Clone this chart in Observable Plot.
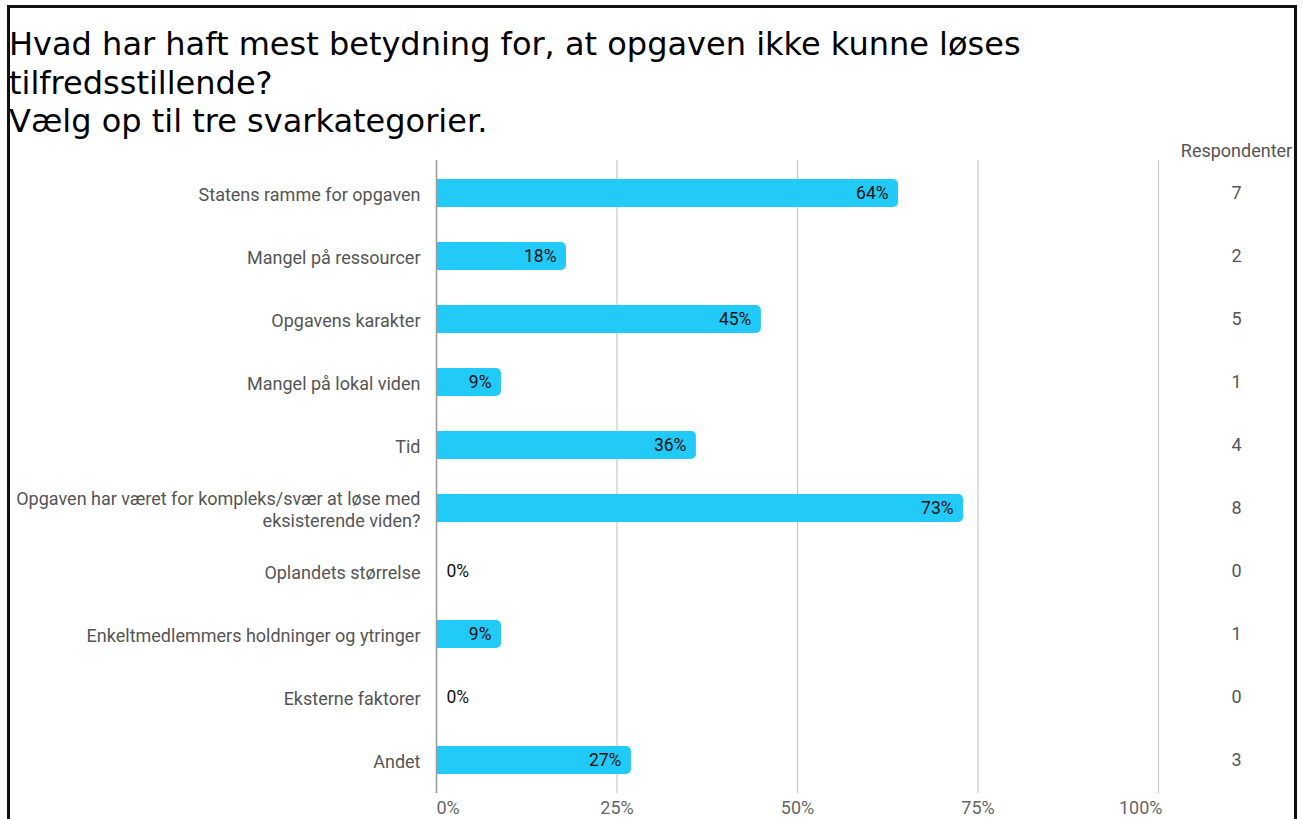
<!DOCTYPE html>
<html>
<head>
<meta charset="utf-8">
<script src="https://cdn.jsdelivr.net/npm/d3@7"></script>
<script src="https://cdn.jsdelivr.net/npm/@observablehq/plot@0.6"></script>
<style>
  body { margin: 0; background: #fff; }
  #wrap { position: relative; width: 1303px; height: 819px; overflow: hidden; background: #fff; }
  #border { position: absolute; left: 7px; top: 5px; width: 1290px; height: 900px; border: 3px solid #111; box-sizing: border-box; }
  #title { position: absolute; left: 9px; top: 25px; font-family: "DejaVu Sans", sans-serif; font-size: 32px; line-height: 38.5px; color: #000; white-space: nowrap; }
  #chart { position: absolute; left: 0; top: 140px; }
</style>
</head>
<body>
<div id="wrap">
  <div id="border"></div>
  <div id="title">Hvad har haft mest betydning for, at opgaven ikke kunne løses<br>tilfredsstillende?<br>Vælg op til tre svarkategorier.</div>
  <div id="chart"></div>
</div>
<script>
const categories = [
  "Statens ramme for opgaven",
  "Mangel på ressourcer",
  "Opgavens karakter",
  "Mangel på lokal viden",
  "Tid",
  "Opgaven har været for kompleks/svær at løse med\neksisterende viden?",
  "Oplandets størrelse",
  "Enkeltmedlemmers holdninger og ytringer",
  "Eksterne faktorer",
  "Andet"
];
const percents = [64, 18, 45, 9, 36, 73, 0, 9, 0, 27];
const respondents = [7, 2, 5, 1, 4, 8, 0, 1, 0, 3];
const xTicks = [0, 0.25, 0.5, 0.75, 1];
const countHeader = "Respondenter";

const data = categories.map((c, i) => ({cat: c, v: percents[i] / 100, p: percents[i], n: respondents[i]}));
const nonzero = data.filter(d => d.v > 0);
const zero = data.filter(d => d.v === 0);
const barColor = "#22CAF8";
const pct = d3.format(".0%");

const chart = Plot.plot({
  width: 1303,
  height: 679,
  marginTop: 20,
  marginBottom: 26,
  marginLeft: 436,
  marginRight: 145,
  style: {fontFamily: "Roboto, sans-serif", fontSize: "18px", color: "#555", background: "transparent"},
  x: {domain: [0, 1], axis: null},
  y: {domain: categories, paddingInner: 0.56, paddingOuter: 0.28, axis: null},
  marks: [
    Plot.gridX(xTicks.slice(1), {stroke: "#c8c8c8", strokeOpacity: 1, strokeWidth: 1.2}),
    Plot.barX(nonzero, {x: "v", y: "cat", fill: barColor, rx: 5}),
    Plot.barX(nonzero, {x1: 0, x2: d => d.v / 2, y: "cat", fill: barColor}),
    Plot.ruleX([0], {stroke: "#999", strokeWidth: 1.5}),
    Plot.text(nonzero, {x: "v", y: "cat", text: d => d.p + "%", textAnchor: "end", dx: -10, fill: "#111", fontSize: 17.5}),
    Plot.text(zero, {x: 0, y: "cat", text: d => d.p + "%", textAnchor: "start", dx: 10, fill: "#111", fontSize: 17.5}),
    Plot.axisY({tickSize: 0, tickPadding: 16, fontSize: 18, lineHeight: 1.22, label: null, fill: "#555"}),
    Plot.axisX([0], {tickSize: 0, tickPadding: 8, fontSize: 18, tickFormat: pct, textAnchor: "start", label: null, fill: "#666"}),
    Plot.axisX([0.25, 0.5, 0.75], {tickSize: 0, tickPadding: 8, fontSize: 18, tickFormat: pct, label: null, fill: "#666"}),
    Plot.axisX([1], {tickSize: 0, tickPadding: 8, fontSize: 18, tickFormat: pct, textAnchor: "end", dx: 4, label: null, fill: "#666"}),
    Plot.text([countHeader], {frameAnchor: "top-right", dx: 78, dy: -9, textAnchor: "middle", lineAnchor: "middle", fill: "#555", fontSize: 18}),
    Plot.text(data, {y: "cat", text: d => String(d.n), frameAnchor: "right", dx: 78, textAnchor: "middle", fill: "#555", fontSize: 18})
  ]
});
document.getElementById("chart").appendChild(chart);
</script>
</body>
</html>
